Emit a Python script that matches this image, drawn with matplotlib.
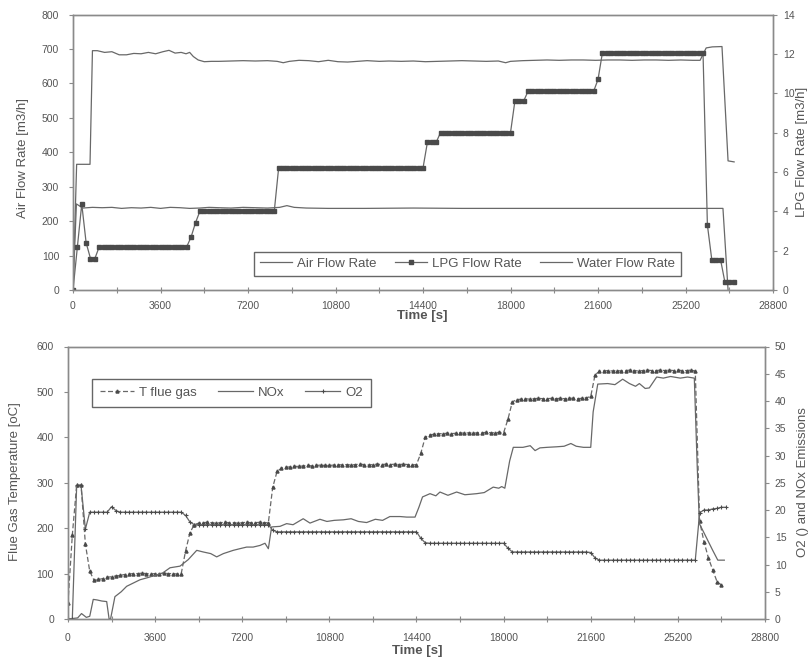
import numpy as np
import matplotlib
matplotlib.use("Agg")
import matplotlib.pyplot as plt
from matplotlib.ticker import MultipleLocator, FixedLocator

plt.rcParams['font.family'] = ['Liberation Sans', 'DejaVu Sans']

# ---------------- Top panel data ----------------
air_t = [0, 150, 700, 800, 1000, 1300, 1600, 1900, 2200, 2500, 2800, 3100, 3400, 3700,
         3950, 4200, 4450, 4650, 4800, 4950, 5150, 5400, 5700, 6000, 6500, 7000, 7500,
         8000, 8400, 8650, 8900, 9300, 9700, 10100, 10500, 10900, 11300, 11700, 12100,
         12600, 13000, 13500, 14000, 14500, 15000, 15500, 16000, 16500, 17000, 17500,
         17800, 18000, 18500, 19000, 19500, 20000, 20500, 21000, 21500, 22000, 22500,
         23000, 23500, 24000, 24500, 25000, 25500, 25800, 26050, 26300, 26700, 26950, 27200]
air_v = [0, 365, 365, 695, 695, 690, 692, 683, 683, 687, 686, 690, 686, 692,
         696, 688, 690, 686, 690, 678, 668, 663, 664, 664, 665, 666, 665,
         666, 664, 660, 664, 667, 666, 663, 667, 663, 662, 664, 666,
         664, 665, 664, 665, 663, 664, 665, 666, 665, 664, 665,
         660, 664, 666, 667, 668, 667, 668, 668, 667, 668, 668,
         667, 668, 668, 667, 668, 667, 667, 703, 706, 707, 375, 372]

water_t = [0, 140, 400, 800, 1200, 1600, 2000, 2400, 2800, 3200, 3600, 4000, 4400, 4800,
           5200, 5600, 6000, 6500, 7000, 7500, 8000, 8500, 8800, 9100, 9600, 10500, 12000,
           14000, 16000, 18000, 20000, 22000, 24000, 26000, 26740, 26950]
water_v = [0, 250, 238, 240, 239, 240, 237, 239, 238, 240, 237, 240, 239, 237,
           238, 240, 239, 238, 240, 239, 238, 240, 245, 240, 238, 237, 237,
           238, 237, 237, 237, 237, 237, 237, 237, 0]

lpg_step = 180
lpg_v = [0, 2.2, 4.37, 2.4, 1.6, 1.6] + [2.2] * 21 + [2.7, 3.42] + [4.0] * 18 + \
        [6.2] * 34 + [7.5] * 3 + [8.0] * 17 + [9.6] * 3 + [10.1] * 16 + [10.7] + \
        [12.05] * 24 + [3.3, 1.55, 1.55, 1.55, 0.4, 0.4, 0.4]
lpg_t = np.arange(len(lpg_v)) * lpg_step

# ---------------- Bottom panel data ----------------
flue_step = 180
tflue_v = [35, 185, 295, 295, 165, 105, 85, 87, 89, 92, 93, 95, 96, 98,
           99, 100, 100, 101, 100, 99, 100, 100, 101, 100, 100, 99, 100,
           150, 190, 208,
           211, 212, 213, 212, 211, 212, 213, 212, 212, 211, 212, 213, 212, 212, 213, 212, 212,
           290, 325, 332,
           334, 335, 336, 336, 337, 338, 337, 338, 339, 338, 338, 339, 340, 339, 340, 339,
           340, 341, 340, 339, 340, 341, 340, 341, 340, 341, 340, 341, 340, 339, 340,
           365, 400, 405,
           407, 408, 408, 409, 408, 409, 410, 409, 410, 409, 410, 410, 411, 410, 410, 411, 410,
           440, 478, 483,
           484, 485, 484, 485, 486, 485, 485, 486, 485, 486, 485, 486, 486, 485, 486, 487,
           490, 538,
           545, 546, 547, 546, 547, 546, 547, 548, 547, 546, 547, 548, 547, 547, 548, 547,
           548, 547, 548, 547, 547, 548,
           546, 215, 170, 135, 108, 82, 75]
tflue_t = np.arange(len(tflue_v)) * flue_step

o2_v = [0, 0, 24.5, 24.5, 16.5, 19.6, 19.6, 19.6, 19.6, 19.6, 20.6, 19.9] + [19.6] * 15 + \
       [19.0, 17.8, 17.3] + [17.3] * 17 + [16.3] + [16.0] * 33 + [14.8, 14.0] + \
       [13.9] * 18 + [13.0, 12.3] + [12.3] * 17 + [12.2, 11.2] + [10.8] * 23 + \
       [19.5, 20.0, 20.0, 20.2, 20.3, 20.5, 20.5]
o2_t = np.arange(len(o2_v)) * flue_step

nox_t = [0, 400, 560, 760, 900, 1045, 1200, 1400, 1600, 1700, 1760, 1940, 2200, 2425,
         2700, 2975, 3300, 3665, 3900, 4215, 4630, 4970, 5320, 5590, 5900, 6145, 6420,
         6830, 7100, 7385, 7650, 7935, 8140, 8280, 8415, 8760, 9035, 9300, 9720, 10000,
         10410, 10700, 11000, 11380, 11700, 12000, 12340, 12700, 13000, 13300, 13720,
         14000, 14340, 14500, 14650, 14960, 15200, 15370, 15700, 16060, 16400, 16890,
         17200, 17570, 17800, 17920, 18050, 18250, 18400, 18800, 19100, 19300, 19500,
         19800, 20200, 20500, 20780, 21000, 21300, 21600, 21700, 21890, 22300, 22600,
         22920, 23200, 23450, 23610, 23850, 24020, 24325, 24600, 24900, 25300, 25600,
         25880, 26000, 26090, 26360, 26640, 26850, 27120]
nox_v = [0, 0.2, 1.0, 0.3, 0.5, 3.6, 3.5, 3.3, 3.2, 0.0, 0.0, 4.1, 5.0, 6.0,
         6.6, 7.2, 7.6, 8.1, 8.4, 9.4, 9.7, 10.9, 12.6, 12.3, 12.0, 11.4, 12.0,
         12.6, 12.9, 13.2, 13.2, 13.5, 13.9, 12.9, 16.9, 17.0, 17.5, 17.3, 18.4, 17.6,
         18.3, 17.9, 18.1, 18.2, 18.4, 17.9, 17.7, 18.3, 18.1, 18.8, 18.8,
         18.7, 18.7, 20.5, 22.4, 23.0, 22.6, 23.3, 22.7, 23.3, 22.8, 23.0,
         23.2, 24.2, 24.0, 24.3, 24.0, 29.0, 31.5, 31.5, 31.8, 30.9, 31.4,
         31.5, 31.6, 31.7, 32.2, 31.7, 31.5, 31.5, 38.0, 43.1, 43.2, 43.0,
         44.0, 43.2, 42.7, 43.2, 42.3, 42.4, 44.4, 44.2, 44.5, 44.2, 44.4,
         44.2, 28.0, 17.5, 15.1, 12.6, 10.8, 10.8]

x_major = [0, 3600, 7200, 10800, 14400, 18000, 21600, 25200, 28800]
x_minor = [1800, 5400, 9000, 12600, 16200, 19800, 23400, 27000]

# ---------------- Styling ----------------
LINE = '#686868'
MARK = '#4a4a4a'
TXT = '#555555'
SPINE = '#8a8a8a'
TICKFS = 7.5
LABFS = 9.5

fig = plt.figure(figsize=(8.12, 6.6), dpi=100)
ax1 = fig.add_axes([0.0899, 0.5606, 0.8621, 0.4174])
ax1r = ax1.twinx()
ax2 = fig.add_axes([0.0837, 0.0621, 0.8584, 0.4129])
ax2r = ax2.twinx()


def style(ax, axr, xpad):
    for a in (ax, axr):
        for s in a.spines.values():
            s.set_color(SPINE)
            s.set_linewidth(1.0)
    ax.set_xlim(0, 28800)
    ax.xaxis.set_major_locator(FixedLocator(x_major))
    ax.xaxis.set_minor_locator(FixedLocator(x_minor))
    ax.set_xticklabels([str(v) for v in x_major])
    ax.tick_params(axis='x', which='both', direction='inout', length=4, width=0.8,
                   colors=SPINE, labelcolor=TXT, labelsize=TICKFS, pad=xpad)
    ax.tick_params(axis='y', direction='out', length=3, width=0.8, colors=SPINE,
                   labelcolor=TXT, labelsize=TICKFS, pad=7)
    axr.tick_params(axis='y', direction='out', length=3, width=0.8, colors=SPINE,
                    labelcolor=TXT, labelsize=TICKFS, pad=4)


style(ax1, ax1r, 6)
style(ax2, ax2r, 8)

# ---------------- Top panel ----------------
l_air, = ax1.plot(air_t, air_v, color=LINE, lw=0.9, label='Air Flow Rate')
l_water, = ax1.plot(water_t, water_v, color=LINE, lw=0.9, label='Water Flow Rate')
l_lpg, = ax1r.plot(lpg_t, lpg_v, color=LINE, lw=0.9, marker='s', ms=2.3,
                   mfc=MARK, mec=MARK, label='LPG Flow Rate')
ax1.set_ylim(0, 800)
ax1.yaxis.set_major_locator(MultipleLocator(100))
ax1r.set_ylim(0, 14)
ax1r.yaxis.set_major_locator(MultipleLocator(2))

ax1.set_ylabel('Air Flow Rate [m3/h]', fontsize=LABFS, color=TXT)
ax1.yaxis.set_label_coords(-0.0714, 0.479)
ax1.yaxis.label.set_verticalalignment('center')
ax1r.set_ylabel('LPG Flow Rate [m3/h]', fontsize=LABFS, color=TXT)
ax1r.yaxis.set_label_coords(1.041, 0.5)
ax1r.yaxis.label.set_verticalalignment('center')
ax1.set_xlabel('Time [s]', fontsize=LABFS, fontweight='bold', color=TXT)
ax1.xaxis.set_label_coords(0.4986, -0.094)
ax1.xaxis.label.set_verticalalignment('center')

leg1 = ax1r.legend(handles=[l_air, l_lpg, l_water], loc='lower left',
                   bbox_to_anchor=(0.2586, 0.0508), borderaxespad=0, ncol=3,
                   fontsize=9.5, frameon=True, fancybox=False, framealpha=1,
                   handlelength=2.4, handletextpad=0.4, columnspacing=1.4,
                   borderpad=0.45, labelcolor=TXT)
leg1.get_frame().set_edgecolor('#666666')
leg1.get_frame().set_linewidth(1.0)

# ---------------- Bottom panel ----------------
l_t, = ax2.plot(tflue_t, tflue_v, color=LINE, lw=0.9, ls=(0, (4, 2)), marker='^', ms=2.2,
                mfc=MARK, mec=MARK, label='T flue gas')
l_nox, = ax2r.plot(nox_t, nox_v, color=LINE, lw=0.9, label='NOx')
l_o2, = ax2r.plot(o2_t, o2_v, color=LINE, lw=0.9, marker='+', ms=3.5, mew=0.8,
                  mec=MARK, label='O2')
ax2.set_ylim(0, 600)
ax2.yaxis.set_major_locator(MultipleLocator(100))
ax2r.set_ylim(0, 50)
ax2r.yaxis.set_major_locator(MultipleLocator(5))

ax2.set_ylabel('Flue Gas Temperature [oC]', fontsize=LABFS, color=TXT)
ax2.yaxis.set_label_coords(-0.076, 0.506)
ax2.yaxis.label.set_verticalalignment('center')
ax2r.set_ylabel('O2 () and NOx Emissions', fontsize=LABFS, color=TXT)
ax2r.yaxis.set_label_coords(1.0545, 0.503)
ax2r.yaxis.label.set_verticalalignment('center')
ax2.set_xlabel('Time [s]', fontsize=LABFS, fontweight='bold', color=TXT)
ax2.xaxis.set_label_coords(0.5007, -0.117)
ax2.xaxis.label.set_verticalalignment('center')

leg2 = ax2r.legend(handles=[l_t, l_nox, l_o2], loc='upper left',
                   bbox_to_anchor=(0.0344, 0.881), borderaxespad=0, ncol=3,
                   fontsize=9.5, frameon=True, fancybox=False, framealpha=1,
                   handlelength=2.6, handletextpad=0.4, columnspacing=1.6,
                   borderpad=0.6, labelcolor=TXT)
leg2.get_frame().set_edgecolor('#666666')
leg2.get_frame().set_linewidth(1.0)

fig.savefig('out.png', dpi=100)
